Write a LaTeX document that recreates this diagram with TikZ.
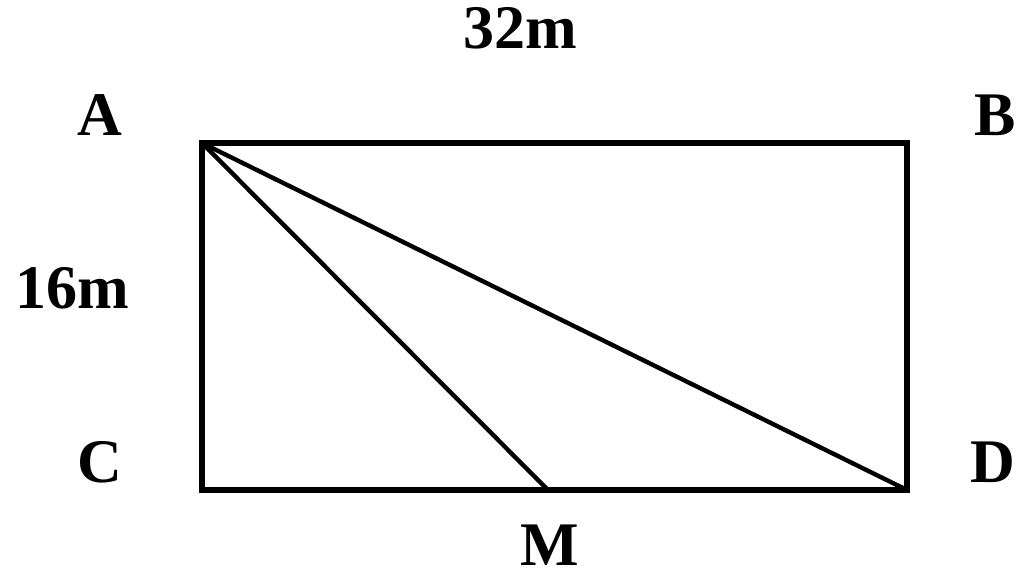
\documentclass[tikz,border=0pt]{standalone}
\usepackage{fontspec}
\setmainfont{Liberation Serif}
\usetikzlibrary{positioning}

\begin{document}
\begin{tikzpicture}[x=0.5pt,y=-0.5pt,
  lbl/.style={font=\fontsize{31}{32}\selectfont\bfseries, inner sep=0pt},
  side/.style={line width=3.3pt, line join=miter}]
\useasboundingbox (0,0) rectangle (1024,580);
\coordinate (A) at (202,143);
\coordinate (B) at (907,143);
\coordinate (C) at (202,490);
\coordinate (D) at (907,490);
\coordinate (M) at (548,490);
\draw[side] (A) -- (B) -- (D) -- (C) -- cycle;
\draw[line width=2.2pt] (A) -- (D);
\draw[line width=2.2pt] (A) -- (M);
\node[lbl] (la) at (100,115) {A};
\node[lbl] (lb) at (995,115) {B};
\node[lbl] (lc) at (100,462) {C};
\node[lbl] (ld) at (993,462) {D};
\node[lbl] (lm) at (550,545) {M};
\node[lbl] (top) at (520,28) {32m};
\node[lbl] (left) at (72,288) {16m};
\end{tikzpicture}
\end{document}
